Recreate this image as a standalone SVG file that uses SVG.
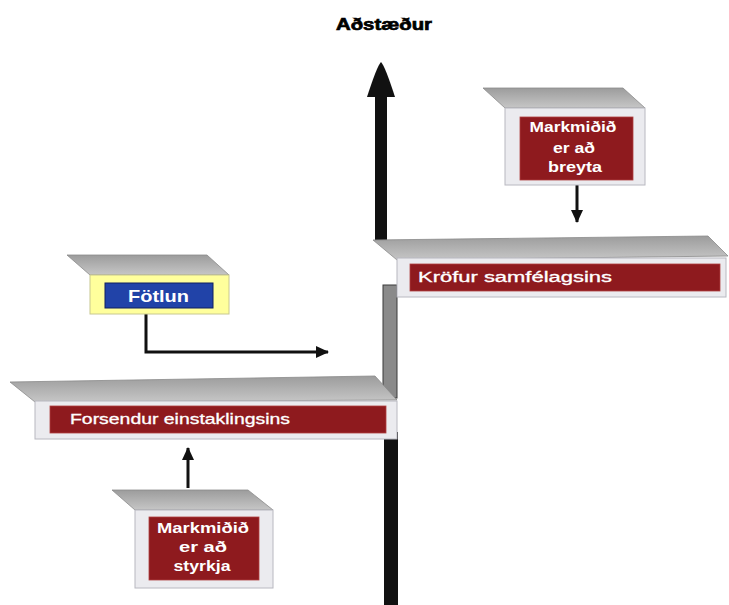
<svg xmlns="http://www.w3.org/2000/svg" width="729" height="605" viewBox="0 0 729 605">
<defs>
<linearGradient id="top" x1="0" y1="0" x2="0" y2="1">
<stop offset="0" stop-color="#9c9c9c"/>
<stop offset="1" stop-color="#c6c6c6"/>
</linearGradient>
<marker id="ah" markerUnits="userSpaceOnUse" markerWidth="14" markerHeight="12" refX="12" refY="6" orient="auto">
<path d="M0,0 L13,6 L0,12 Z" fill="#111"/>
</marker>
<style>
.top{fill:url(#top);stroke:#8a8a8a;stroke-width:0.8}
.front{fill:#ebebef;stroke:#b8b8c0;stroke-width:1}
.red{fill:#8e1a1e;stroke:#b04040;stroke-width:0.8}
.lbl{font-family:"Liberation Sans",Arial,sans-serif;fill:#fff}
.b{font-weight:bold}
.con{stroke:#111;stroke-width:3;fill:none}
</style>
</defs>
<rect width="729" height="605" fill="#fff"/>
<text x="384" y="30" text-anchor="middle" font-family="Liberation Sans,Arial,sans-serif" font-weight="bold" font-size="17" textLength="96" lengthAdjust="spacingAndGlyphs" fill="#000" stroke="#000" stroke-width="0.7">Aðstæður</text>

<g id="connectors">
<rect x="375" y="94" width="12" height="147" fill="#111"/>
<path d="M381,62 Q385,66 395,97 L367,97 Q377,66 381,62 Z" fill="#111"/>
<rect x="384" y="432" width="14" height="173" fill="#111"/>
<rect x="383" y="285" width="14" height="113" fill="#8a8a8a" stroke="#3a3a3a" stroke-width="1"/>
<line class="con" x1="577" y1="185" x2="577" y2="222" marker-end="url(#ah)"/>
<line class="con" x1="188" y1="488" x2="188" y2="448" marker-end="url(#ah)"/>
<polyline class="con" points="146,314 146,352 328,352" marker-end="url(#ah)"/>
</g>

<g id="node-breyta">
<polygon class="top" points="483,88 623,88 645,108 505,108"/>
<rect class="front" x="505" y="108" width="140" height="77"/>
<rect class="red" x="520" y="117" width="113" height="63"/>
<text class="lbl b" font-size="14" text-anchor="middle" x="573" y="132" textLength="87" lengthAdjust="spacingAndGlyphs">Markmiðið</text>
<text class="lbl b" font-size="14" text-anchor="middle" x="574" y="153" textLength="42" lengthAdjust="spacingAndGlyphs">er að</text>
<text class="lbl b" font-size="14" text-anchor="middle" x="575" y="172" textLength="54" lengthAdjust="spacingAndGlyphs">breyta</text>
</g>

<g id="node-krofur">
<polygon class="top" points="373,240 708,236 728,256 397,260"/>
<rect class="front" x="397" y="258" width="329" height="39"/>
<rect class="red" x="410" y="264" width="310" height="27"/>
<text class="lbl" font-size="14" x="418" y="282" textLength="194" lengthAdjust="spacingAndGlyphs" stroke="#fff" stroke-width="0.3">Kröfur samfélagsins</text>
</g>

<g id="node-fotlun">
<polygon class="top" points="67,255 207,255 229,275 90,275"/>
<rect x="90" y="275" width="139" height="39" fill="#ffff9c" stroke="#c8c890" stroke-width="1"/>
<rect x="105" y="283" width="108" height="25" fill="#2143a8" stroke="#102060" stroke-width="1"/>
<text class="lbl b" font-size="17" x="128" y="302" textLength="61" lengthAdjust="spacingAndGlyphs">Fötlun</text>
</g>

<g id="node-forsendur">
<polygon class="top" points="10,382 375,376 397,400 35,402"/>
<rect class="front" x="35" y="401" width="362" height="38"/>
<rect class="red" x="50" y="406" width="336" height="27"/>
<text class="lbl" font-size="14" x="70" y="424" textLength="220" lengthAdjust="spacingAndGlyphs" stroke="#fff" stroke-width="0.3">Forsendur einstaklingsins</text>
</g>

<g id="node-styrkja">
<polygon class="top" points="112,490 248,490 273,510 135,510"/>
<rect class="front" x="135" y="510" width="138" height="78"/>
<rect class="red" x="149" y="517" width="110" height="63"/>
<text class="lbl b" font-size="14" text-anchor="middle" x="203" y="533" textLength="92" lengthAdjust="spacingAndGlyphs">Markmiðið</text>
<text class="lbl b" font-size="14" text-anchor="middle" x="203" y="552" textLength="48" lengthAdjust="spacingAndGlyphs">er að</text>
<text class="lbl b" font-size="14" text-anchor="middle" x="202" y="571" textLength="57" lengthAdjust="spacingAndGlyphs">styrkja</text>
</g>
</svg>
